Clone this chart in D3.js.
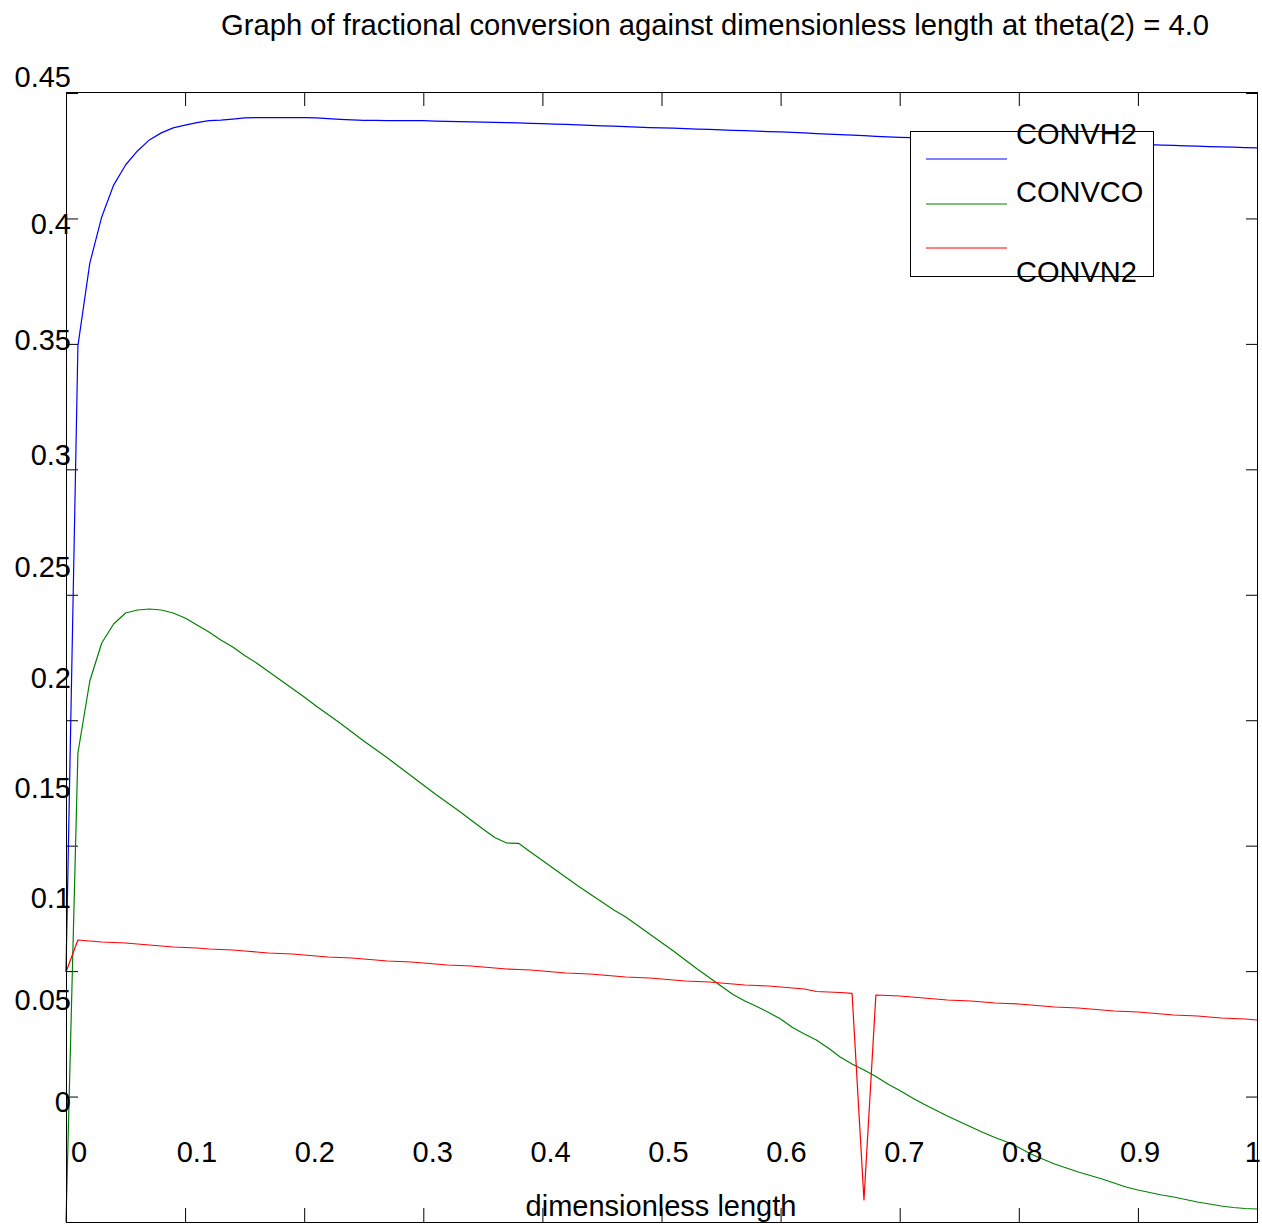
<!DOCTYPE html>
<html>
<head>
<meta charset="utf-8">
<script src="https://cdn.jsdelivr.net/npm/d3@7"></script>
<style>
  html, body { margin: 0; padding: 0; background: #fff; }
  svg { display: block; font-family: "Liberation Sans", Arial, sans-serif; }
</style>
</head>
<body>
<svg id="chart" width="1262" height="1224"></svg>
<script>
// ---------- data ----------
const xValues = [0,0.01,0.02,0.03,0.04,0.05,0.06,0.07,0.08,0.09,0.1,0.11,0.12,0.13,0.14,0.15,0.16,0.17,0.18,0.19,0.2,0.21,0.22,0.23,0.24,0.25,0.26,0.27,0.28,0.29,0.3,0.31,0.32,0.33,0.34,0.35,0.36,0.37,0.38,0.39,0.4,0.41,0.42,0.43,0.44,0.45,0.46,0.47,0.48,0.49,0.5,0.51,0.52,0.53,0.54,0.55,0.56,0.57,0.58,0.59,0.6,0.61,0.62,0.63,0.64,0.65,0.66,0.67,0.68,0.69,0.7,0.71,0.72,0.73,0.74,0.75,0.76,0.77,0.78,0.79,0.8,0.81,0.82,0.83,0.84,0.85,0.86,0.87,0.88,0.89,0.9,0.91,0.92,0.93,0.94,0.95,0.96,0.97,0.98,0.99,1];

const convH2 = [0.0996,0.3492,0.3822,0.4006,0.4133,0.4213,0.4269,0.4313,0.4341,0.4361,0.4372,0.4382,0.4390,0.4392,0.4396,0.4401,0.4402,0.4402,0.4402,0.4402,0.4402,0.4401,0.4398,0.4395,0.4393,
0.4391,0.4391,0.4390,0.4390,0.4390,0.4390,0.4388,0.4387,0.4386,0.4385,0.4384,0.4383,0.4382,0.4381,0.4379,0.4378,0.4376,0.4375,0.4373,0.4371,0.4369,0.4368,0.4366,0.4364,0.4362,
0.4361,0.4360,0.4358,0.4356,0.4355,0.4353,0.4351,0.4350,0.4348,0.4346,0.4345,0.4343,0.4341,0.4338,0.4336,0.4334,0.4332,0.4330,0.4327,0.4325,0.4323,0.4322,0.4320,0.4319,0.4317,
0.4316,0.4315,0.4313,0.4312,0.4310,0.4309,0.4308,0.4306,0.4305,0.4303,0.4302,0.4301,0.4299,0.4298,0.4296,0.4295,0.4294,0.4292,0.4291,0.4289,0.4288,0.4286,0.4285,0.4284,0.4282,0.4281];

const convCO = [0,0.18693,0.21563,0.23078,0.23835,0.24274,0.24393,0.24433,0.24393,0.24274,0.24074,0.23795,0.23516,0.23197,0.22918,0.22580,0.22281,0.21942,0.21603,0.21264,0.20925,0.20567,0.20228,0.19889,0.19530,
0.19172,0.18833,0.18494,0.18135,0.17777,0.17418,0.17059,0.16720,0.16382,0.16023,0.15664,0.15325,0.15106,0.15094,0.14747,0.14409,0.14070,0.13731,0.13392,0.13073,0.12755,0.12436,0.12157,0.11818,0.11479,
0.11140,0.10802,0.10443,0.10084,0.09745,0.09406,0.09068,0.08809,0.08589,0.08350,0.08091,0.07752,0.07493,0.07254,0.06935,0.06577,0.06298,0.06058,0.05799,0.05500,0.05241,0.04962,0.04703,0.04464,0.04225,
0.04006,0.03787,0.03567,0.03368,0.03189,0.02969,0.02710,0.02511,0.02312,0.02152,0.01993,0.01853,0.01714,0.01554,0.01395,0.01275,0.01176,0.01076,0.00996,0.00897,0.00797,0.00717,0.00638,0.00578,0.00538,0.00518];

const convN2 = [0.09965,0.11240,0.11200,0.11160,0.11140,0.11120,0.11081,0.11041,0.11001,0.10961,0.10941,0.10921,0.10881,0.10861,0.10841,0.10802,0.10762,0.10722,0.10702,0.10682,0.10642,0.10602,0.10562,0.10542,0.10523,
0.10483,0.10443,0.10403,0.10383,0.10363,0.10323,0.10283,0.10244,0.10224,0.10204,0.10164,0.10124,0.10084,0.10064,0.10044,0.10004,0.09965,0.09925,0.09905,0.09885,0.09845,0.09805,0.09765,0.09745,0.09725,
0.09685,0.09646,0.09606,0.09586,0.09566,0.09526,0.09486,0.09446,0.09426,0.09406,0.09367,0.09327,0.09287,0.09187,0.09167,0.09147,0.09116,0.00877,0.09048,0.09028,0.09008,0.08968,0.08928,0.08888,0.08848,
0.08828,0.08809,0.08769,0.08729,0.08709,0.08689,0.08649,0.08609,0.08569,0.08550,0.08530,0.08490,0.08450,0.08410,0.08390,0.08370,0.08330,0.08290,0.08251,0.08231,0.08211,0.08171,0.08131,0.08111,0.08091,0.08051];

const seriesNames = ["CONVH2", "CONVCO", "CONVN2"];
const xTicks = [0,0.1,0.2,0.3,0.4,0.5,0.6,0.7,0.8,0.9,1];
const xTickLabels = ["0","0.1","0.2","0.3","0.4","0.5","0.6","0.7","0.8","0.9","1"];
const yTicks = [0,0.05,0.1,0.15,0.2,0.25,0.3,0.35,0.4,0.45];
const yTickLabels = ["0","0.05","0.1","0.15","0.2","0.25","0.3","0.35","0.4","0.45"];
const titleText = "Graph of fractional conversion against dimensionless length at theta(2) = 4.0";
const xAxisTitle = "dimensionless length";

// ---------- layout ----------
const W = 1262, H = 1224;
const L = 66, R = 1257, T = 92, B = 1222;
const FONT = 29;
const colors = ["#0000ff", "#008000", "#ff0000"];

const svg = d3.select("#chart");
svg.append("rect").attr("width", W).attr("height", H).attr("fill", "#fff");

const x = d3.scaleLinear().domain([0, 1]).range([L, R]);
const y = d3.scaleLinear().domain([0, 0.45]).range([B, T + 1]);

// label placement scales (labels in the original sit off their ticks)
const xLab = d3.scaleLinear().domain([0, 1]).range([79, 1258]);
const yLab = d3.scaleLinear().domain([0, 0.1, 0.2, 0.3, 0.4, 0.45]).range([1112, 908, 688, 465, 234, 87]);

// ---------- axes (ticks only, inward) ----------
function styleAxis(g) {
  g.select(".domain").remove();
  g.selectAll(".tick line").attr("stroke", "#000").attr("stroke-width", 1);
  g.selectAll(".tick text").remove();
}
svg.append("g").attr("transform", `translate(0,${B})`)
  .call(d3.axisBottom(x).tickValues(xTicks).tickSize(-14).tickFormat(""))
  .call(styleAxis);
svg.append("g").attr("transform", `translate(0,${T})`)
  .call(d3.axisTop(x).tickValues(xTicks).tickSize(-14).tickFormat(""))
  .call(styleAxis);
svg.append("g").attr("transform", `translate(${L},0)`)
  .call(d3.axisLeft(y).tickValues(yTicks).tickSize(-12).tickFormat(""))
  .call(styleAxis);
svg.append("g").attr("transform", `translate(${R},0)`)
  .call(d3.axisRight(y).tickValues(yTicks).tickSize(-11).tickFormat(""))
  .call(styleAxis);

// ---------- lines ----------
const allSeries = [convH2, convCO, convN2];
const line = d3.line().x((d, i) => x(xValues[i])).y(d => y(d));
allSeries.forEach((s, i) => {
  svg.append("path").datum(s)
    .attr("fill", "none")
    .attr("stroke", colors[i])
    .attr("stroke-width", 1.2)
    .attr("stroke-linejoin", "round")
    .attr("d", line);
});

// ---------- frame ----------
svg.append("rect")
  .attr("x", L + 0.5).attr("y", T + 0.5)
  .attr("width", R - L).attr("height", B - T)
  .attr("fill", "none").attr("stroke", "#000").attr("stroke-width", 1);

// ---------- tick labels ----------
svg.append("g").selectAll("text").data(yTicks).join("text")
  .attr("x", 71).attr("y", d => yLab(d))
  .attr("text-anchor", "end").attr("font-size", FONT).attr("fill", "#000")
  .text((d, i) => yTickLabels[i]);

svg.append("g").selectAll("text").data(xTicks).join("text")
  .attr("x", d => xLab(d)).attr("y", 1162)
  .attr("text-anchor", "middle").attr("font-size", FONT).attr("fill", "#000")
  .text((d, i) => xTickLabels[i])
  .each(function () {
    // keep the last label inside the page edge
    const w = this.getComputedTextLength();
    const cx = +this.getAttribute("x");
    if (cx + w / 2 > W - 1) this.setAttribute("x", W - 1 - w / 2);
  });

// ---------- titles ----------
svg.append("text").attr("x", 715).attr("y", 35)
  .attr("text-anchor", "middle").attr("font-size", FONT).attr("fill", "#000")
  .attr("textLength", 988).attr("lengthAdjust", "spacingAndGlyphs")
  .text(titleText);
svg.append("text").attr("x", 661).attr("y", 1216)
  .attr("text-anchor", "middle").attr("font-size", FONT).attr("fill", "#000")
  .text(xAxisTitle);

// ---------- legend ----------
const lg = svg.append("g");
lg.append("rect").attr("x", 910.5).attr("y", 131.5).attr("width", 243).attr("height", 145)
  .attr("fill", "#fff").attr("stroke", "#000").attr("stroke-width", 1);
const legendLineY = [159, 204, 248];
const legendTextY = [144, 202, 282];
seriesNames.forEach((name, i) => {
  lg.append("line").attr("x1", 926).attr("x2", 1007)
    .attr("y1", legendLineY[i]).attr("y2", legendLineY[i])
    .attr("stroke", colors[i]).attr("stroke-width", 1.2);
  lg.append("text").attr("x", 1016).attr("y", legendTextY[i])
    .attr("font-size", FONT).attr("fill", "#000").text(name);
});
</script>
</body>
</html>
